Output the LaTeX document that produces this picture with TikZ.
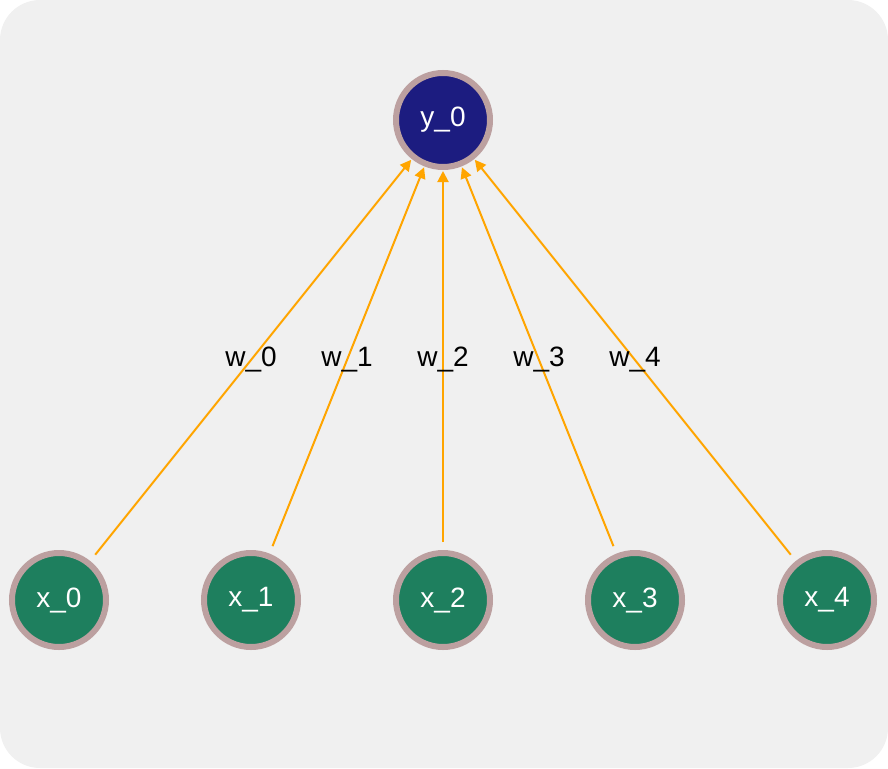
\documentclass[tikz,border=0pt]{standalone}
\usepackage{fontspec}
\setmainfont{Liberation Sans}
\usetikzlibrary{positioning,arrows.meta}
\definecolor{cBack}{HTML}{F0F0F0}
\definecolor{cRim}{HTML}{BCA0A0}
\definecolor{cIn}{HTML}{1E7F5E}
\definecolor{cOut}{HTML}{1C1C80}
\definecolor{cWeight}{HTML}{FFA500}
\newcommand{\bigtxt}{\fontsize{28}{34}\selectfont}
\tikzset{
  neuron/.style={circle, draw=cRim, line width=6pt, minimum size=94pt,
                 inner sep=0pt, text=white, font=\bigtxt},
  inp/.style={neuron, fill=cIn},
  outp/.style={neuron, fill=cOut},
  wt/.style={-{Triangle[length=11pt,width=11pt]}, line width=2pt, cWeight,
             shorten <=8pt, shorten >=1pt},
  lbl/.style={font=\bigtxt, text=black, inner sep=1pt},
}

\begin{document}
\begin{tikzpicture}[x=1pt,y=-1pt]
  \fill[cBack, rounded corners=40pt] (0,0) rectangle (888,768);
  \useasboundingbox (0,0) rectangle (888,768);
  \node[outp] (y0) at (443,120) {y\_0};
  % inputs and their weights
  \foreach \i in {0,...,4} {
    \node[inp] (x\i) at ({443+(\i-2)*192},600) {x\_\i};
    \draw[wt] (x\i) -- node[lbl] (w\i) {w\_\i} (y0);
  }
\end{tikzpicture}
\end{document}
